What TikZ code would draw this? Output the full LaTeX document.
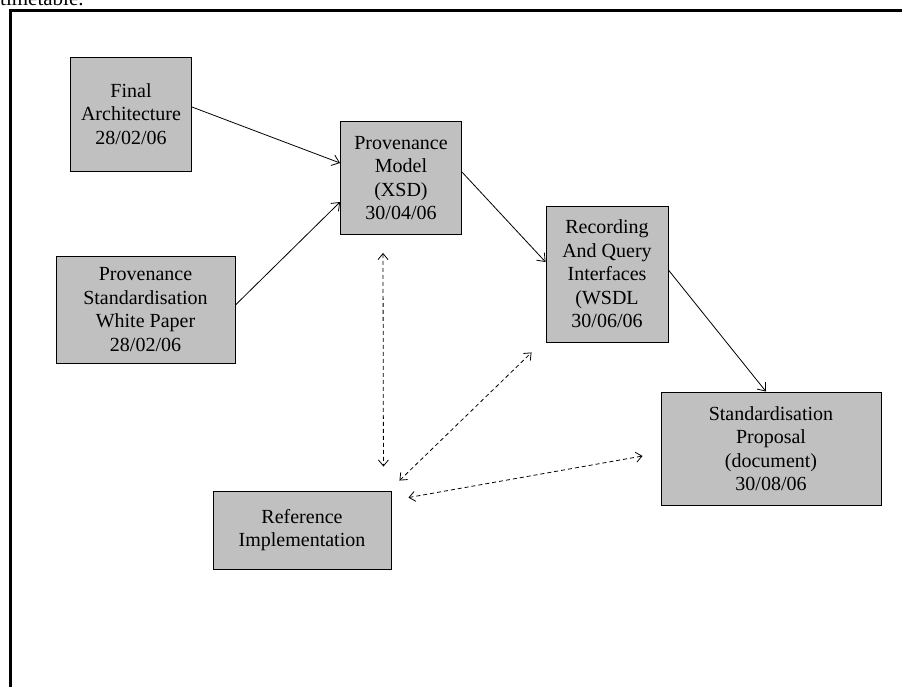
\documentclass[tikz,border=0pt]{standalone}
\usepackage{fontspec}
\setmainfont{Liberation Serif}
\usetikzlibrary{arrows.meta}
\definecolor{boxgray}{RGB}{192,192,192}

\begin{document}
\begin{tikzpicture}[x=1pt,y=-1pt,
      box/.style={draw=black, line width=0.9pt, fill=boxgray, align=center, inner sep=0pt,
                  font=\fontsize{20}{23.5}\selectfont},
      flow/.style={black, line width=0.8pt, ->, >={Straight Barb[length=7pt,width=11pt]}},
      link/.style={black, line width=0.8pt, <->, >={Straight Barb[length=6pt,width=10pt]},
                   dash pattern=on 4pt off 3pt}]
      \useasboundingbox (0,0) rectangle (902,686);
      \clip (0,0) rectangle (902,686);
      % caption line cut by the page
      \node [anchor=base west, inner sep=0pt, font=\fontsize{21}{24}\selectfont] (cap) at (0,5) {timetable.};
      % frame
      \draw [line width=3pt] (10,700) -- (10,10) -- (910,10);
      % deliverables
      \node [box, minimum width=121pt, minimum height=114pt] (fa) at (131,114) {Final\\Architecture\\28/02/06};
      \node [box, minimum width=179pt, minimum height=107pt] (wp) at (145.5,309.5) {Provenance\\Standardisation\\White Paper\\28/02/06};
      \node [box, minimum width=121pt, minimum height=113pt] (pm) at (401,178) {Provenance\\Model\\(XSD)\\30/04/06};
      \node [box, minimum width=122pt, minimum height=136pt] (rq) at (607,274) {Recording\\And Query\\Interfaces\\(WSDL\\30/06/06};
      \node [box, minimum width=220pt, minimum height=113pt] (sp) at (771,448.5) {Standardisation\\Proposal\\(document)\\30/08/06};
      \node [box, minimum width=178pt, minimum height=78pt] (ri) at (302,530) {Reference\\Implementation};
      % dependencies
      \draw [flow] ([yshift=7pt]fa.east) -- ([yshift=15pt]pm.west);
      \draw [flow] ([yshift=4.5pt]wp.east) -- ([yshift=-24pt]pm.west);
      \draw [flow] ([yshift=6pt]pm.east) -- ([yshift=12pt]rq.west);
      \draw [flow] ([yshift=4pt]rq.east) -- ([xshift=-5pt]sp.north);
      % reference implementation
      \draw [link] ([xshift=-18pt,yshift=-18pt]pm.south) -- ([xshift=-8pt,yshift=24pt]ri.north east);
      \draw [link] ([xshift=8pt,yshift=10pt]ri.north east) -- ([xshift=-14pt,yshift=-10pt]rq.south west);
      \draw [link] ([xshift=17pt,yshift=-7pt]ri.north east) -- ([xshift=-18pt,yshift=-7.5pt]sp.west);
\end{tikzpicture}
\end{document}
